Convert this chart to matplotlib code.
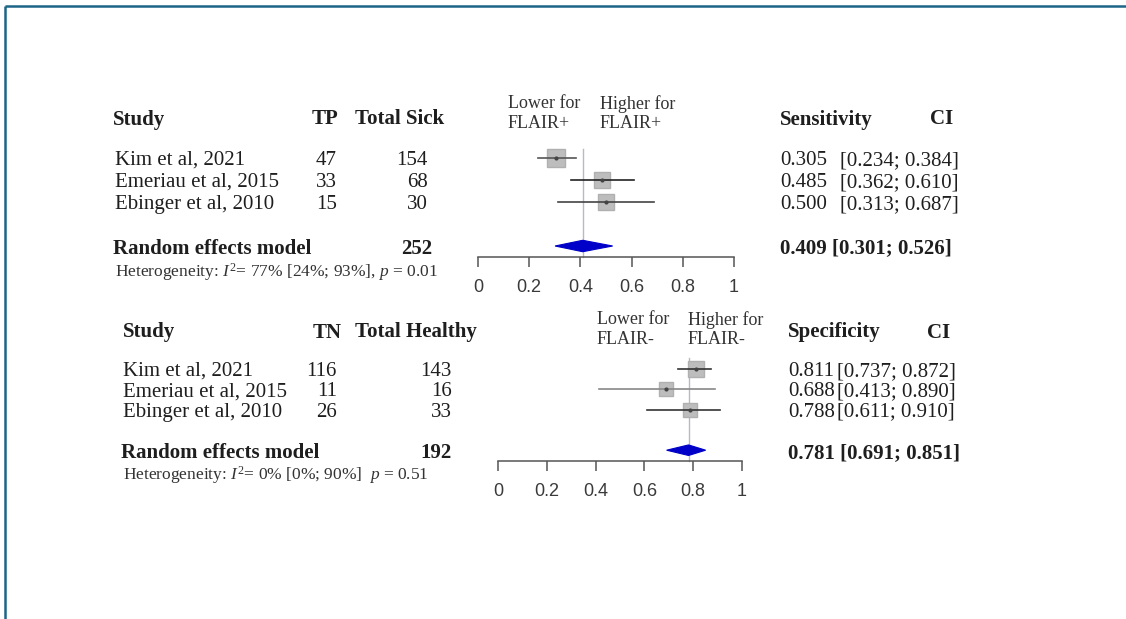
import numpy as np
import matplotlib.pyplot as plt
from matplotlib.patches import Polygon

plt.rcParams['mathtext.fontset'] = 'custom'
plt.rcParams['mathtext.rm'] = 'Liberation Serif'
plt.rcParams['mathtext.it'] = 'Liberation Serif:italic'

# data
studies = ["Kim et al, 2021", "Emeriau et al, 2015", "Ebinger et al, 2010"]
tp = [47, 33, 15]
total_sick = [154, 68, 30]
sens = [0.305, 0.485, 0.500]
sens_lo = [0.234, 0.362, 0.313]
sens_hi = [0.384, 0.610, 0.687]
sens_pooled = [0.409, 0.301, 0.526]
het_sens = "Heterogeneity: $I^2$= 77% [24%; 93%], $p$ = 0.01"

tn = [116, 11, 26]
total_healthy = [143, 16, 33]
spec = [0.811, 0.688, 0.788]
spec_lo = [0.737, 0.413, 0.611]
spec_hi = [0.872, 0.890, 0.910]
spec_pooled = [0.781, 0.691, 0.851]
het_spec = "Heterogeneity: $I^2$= 0% [0%; 90%]  $p$ = 0.51"

ticks = [0, 0.2, 0.4, 0.6, 0.8, 1]
tick_labels = ["0", "0.2", "0.4", "0.6", "0.8", "1"]

W, H = 1126, 619
fig = plt.figure(figsize=(W / 100, H / 100), dpi=100)
bg = fig.add_axes([0, 0, 1, 1])
bg.set_xlim(0, W)
bg.set_ylim(H, 0)
bg.axis('off')

# frame
bg.plot([4.5, W], [5.5, 5.5], color='#1d6586', lw=1.8, solid_capstyle='butt')
bg.plot([4.5, 4.5], [5.5, H], color='#1d6586', lw=1.8, solid_capstyle='butt')

SERIF = 'Liberation Serif'
TXT = '#1e1e1e'


def txt(x, y, s, size=15, bold=False, ha='left', color=TXT):
    bg.text(x, y, s, fontsize=size, family=SERIF, ha=ha, va='center_baseline',
            fontweight='bold' if bold else 'normal', color=color)


def panel(p):
    base, step = p['base'], p['step']
    row = lambda r: base + step * r
    xs = p['xcol']
    # headers
    hy = p['head_y']
    txt(xs['study_h'], hy, "Study", bold=True)
    txt(xs['ev_h'], hy, p['ev_name'], bold=True)
    txt(xs['tot_h'], hy, p['tot_name'], bold=True)
    txt(xs['est'], hy, p['est_name'], bold=True)
    txt(xs['ci_h'], hy, "CI", bold=True)
    for i, s in enumerate(studies):
        y = row(i)
        txt(xs['study'], y, s)
        txt(xs['ev_r'], y, str(p['ev'][i]), ha='right')
        txt(xs['tot_r'], y, str(p['tot'][i]), ha='right')
        txt(xs['est'], y, "%.3f" % p['est'][i])
        txt(xs['ci'], y, "[%.3f; %.3f]" % (p['lo'][i], p['hi'][i]))
    y = row(4)
    txt(xs['study'] - 2, y, "Random effects model", bold=True)
    txt(xs['tot_r'] + p['sum_shift'], y, str(sum(p['tot'])), bold=True, ha='right')
    pe = p['pooled']
    txt(xs['est'], y, "%.3f [%.3f; %.3f]" % (pe[0], pe[1], pe[2]), bold=True)
    txt(xs['study'], p['het_y'], p['het'], size=12.5, color='#333333')
    # direction labels
    lx, hx, ly = p['lab_x'][0], p['lab_x'][1], p['lab_y']
    txt(lx, ly, "Lower for", size=13, color='#333333')
    txt(lx, ly + 20, p['flair'], size=13, color='#333333')
    txt(hx, ly, "Higher for", size=13, color='#333333')
    txt(hx, ly + 20, p['flair'], size=13, color='#333333')

    # forest axes
    x0, x1, ytop, ybot = p['ax_px']
    ax = fig.add_axes([x0 / W, 1 - ybot / H, (x1 - x0) / W, (ybot - ytop) / H])
    ax.set_xlim(0, 1)
    ax.set_ylim((ybot - base) / step, (ytop - base) / step)
    ax.patch.set_alpha(0)
    for sp in ['top', 'left', 'right']:
        ax.spines[sp].set_visible(False)
    ax.spines['bottom'].set_color('#555555')
    ax.spines['bottom'].set_linewidth(1.1)
    ax.set_yticks([])
    ax.set_xticks(ticks)
    ax.set_xticklabels(tick_labels, family='Liberation Sans', fontsize=13, color='#3a3a3a')
    ax.tick_params(axis='x', direction='out', length=7.5, width=1.1, color='#555555', pad=8)
    ax.plot([pe[0], pe[0]], [p['ref_top'], (ybot - base) / step], color='#b8b8c8', lw=1, clip_on=False)
    for i in range(3):
        ax.plot(p['est'][i], i, marker='s', ms=p['sq'][i], color='#bdbdbd', mec='#b0b0b0', clip_on=False, zorder=3)
        ax.plot([p['lo'][i], p['hi'][i]], [i, i], color=p['ci_col'][i], lw=1.2, clip_on=False, zorder=4)
        ax.plot(p['est'][i], i, marker='o', ms=2, color='#444444', clip_on=False, zorder=5)
    dh = 0.26
    ax.add_patch(Polygon([(pe[1], 4), (pe[0], 4 - dh), (pe[2], 4), (pe[0], 4 + dh)],
                         closed=True, fc='#0000c8', ec='#0000c8', lw=0.8, clip_on=False, zorder=4))


panel(dict(base=158, step=22, head_y=117, het_y=269,
           ev_name="TP", tot_name="Total Sick", est_name="Sensitivity", flair="FLAIR+",
           ev=tp, tot=total_sick, est=sens, lo=sens_lo, hi=sens_hi, pooled=sens_pooled, het=het_sens,
           xcol=dict(study_h=113, study=115, ev_h=312, ev_r=337, tot_h=355, tot_r=428,
                     est=780, ci=840, ci_h=930),
           sum_shift=4, lab_x=(508, 600), lab_y=102,
           ax_px=(478, 734, 140, 257), ref_top=-0.4, sq=(12.5, 11, 11.5),
           ci_col=('#555555', '#222222', '#444444')))

panel(dict(base=369, step=20.3, head_y=330, het_y=472,
           ev_name="TN", tot_name="Total Healthy", est_name="Specificity", flair="FLAIR-",
           ev=tn, tot=total_healthy, est=spec, lo=spec_lo, hi=spec_hi, pooled=spec_pooled, het=het_spec,
           xcol=dict(study_h=123, study=123, ev_h=313, ev_r=337, tot_h=355, tot_r=452,
                     est=788, ci=837, ci_h=927),
           sum_shift=0, lab_x=(597, 688), lab_y=318,
           ax_px=(498, 742, 350, 461), ref_top=-0.55, sq=(11.5, 10.5, 10.5),
           ci_col=('#333333', '#888888', '#333333')))

fig.savefig('out.png', dpi=100)
